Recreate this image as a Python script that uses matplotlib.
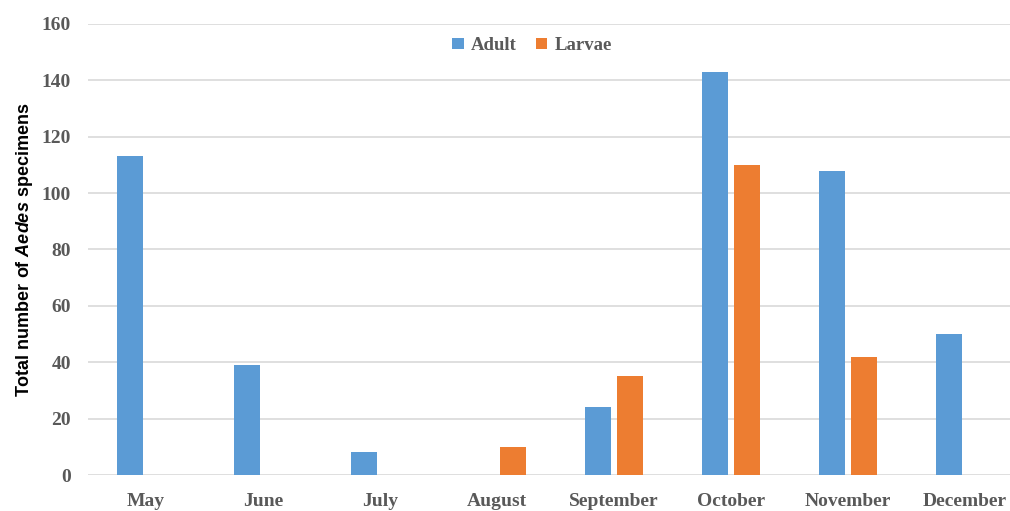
import numpy as np
import matplotlib.pyplot as plt

# Monthly counts of Aedes specimens
months = ["May", "June", "July", "August", "September", "October", "November", "December"]
adult = [113, 39, 8, 0, 24, 143, 108, 50]
larvae = [0, 0, 0, 10, 35, 110, 42, 0]

BLUE = "#5B9BD5"
ORANGE = "#ED7D31"
GRID = "#D9D9D9"
TICK = "#595959"

plt.rcParams["mathtext.fontset"] = "custom"
plt.rcParams["mathtext.it"] = "Liberation Sans:italic:bold"
plt.rcParams["mathtext.rm"] = "Liberation Sans:bold"

fig = plt.figure(figsize=(10.10, 5.11), dpi=100)
ax = fig.add_axes([87.5 / 1010, 1 - 475 / 511, 936 / 1010, 451 / 511])

x = np.arange(len(months))
w = 0.222
off = 0.14
ax.bar(x - off, adult, w, color=BLUE, label="Adult", zorder=3)
ax.bar(x + off, larvae, w, color=ORANGE, label="Larvae", zorder=3)

ax.set_xlim(-0.5, len(months) - 0.5)
ax.set_ylim(0, 160)
ax.set_yticks(np.arange(0, 161, 20))
ax.set_xticks(x)
ax.set_xticklabels(months)
ax.grid(axis="y", color=GRID, linewidth=1.2, zorder=0)
for s in ax.spines.values():
    s.set_visible(False)
ax.tick_params(axis="both", length=0, labelcolor=TICK)
ax.tick_params(axis="y", pad=12)
ax.tick_params(axis="x", pad=13)
for lab in ax.get_xticklabels() + ax.get_yticklabels():
    lab.set_fontfamily("Liberation Serif")
    lab.set_fontweight("bold")
    lab.set_fontsize(14)

ax.set_ylabel(r"Total number of $\it{Aedes}$ specimens", fontsize=13,
              fontfamily="Liberation Sans", fontweight="bold", color="black")
ax.yaxis.set_label_coords((35 - 87.5) / 936, 0.5)

leg = ax.legend(loc="center", bbox_to_anchor=(0.475, 0.952), ncol=2, frameon=False,
                handlelength=0.6, handleheight=0.6, handletextpad=0.4, columnspacing=1.0,
                prop={"family": "Liberation Serif", "weight": "bold", "size": 13.5})
for t in leg.get_texts():
    t.set_color(TICK)

fig.savefig("out.png", dpi=100)
